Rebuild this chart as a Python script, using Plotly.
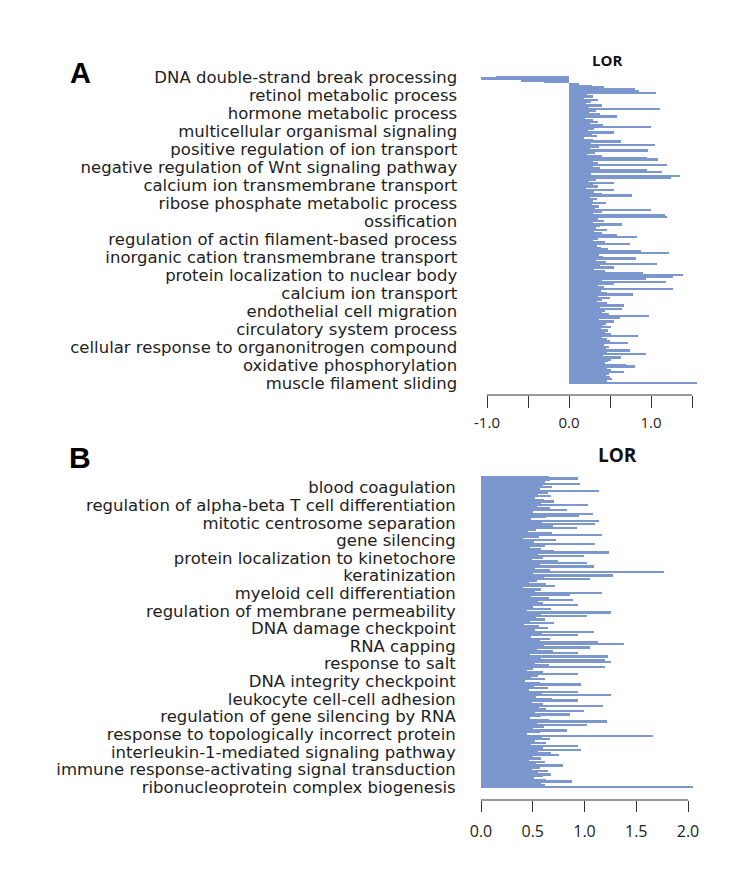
import plotly.graph_objects as go

# ---------------- Panel A data ----------------
lor_a = [
    -0.89, -1.07, -0.58, -0.30, 0.12, 0.28, 0.43, 0.81, 0.86, 1.06,
    0.22, 0.30, 0.18, 0.35, 0.27, 0.21, 0.40, 0.25, 1.11, 0.33,
    0.24, 0.38, 0.59, 0.20, 0.29, 0.36, 0.26, 0.42, 1.00, 0.31,
    0.23, 0.55, 0.28, 0.34, 0.19, 0.30, 0.63, 0.27, 1.05, 0.37,
    0.26, 0.96, 0.32, 0.22, 0.41, 0.95, 1.09, 0.29, 0.35, 1.20,
    0.30, 0.38, 0.95, 1.13, 0.27, 1.35, 1.25, 0.33, 0.24, 0.55,
    0.29, 0.36, 0.21, 0.55, 0.31, 0.40, 0.77, 0.26, 0.34, 0.30,
    0.45, 0.28, 0.37, 0.32, 1.00, 0.41, 0.30, 1.17, 1.20, 0.35,
    0.43, 0.29, 0.65, 0.38, 0.33, 0.46, 0.31, 0.40, 0.59, 0.83,
    0.36, 0.30, 0.44, 0.74, 0.34, 0.39, 0.48, 0.88, 1.22, 0.37,
    0.42, 0.82, 0.33, 0.45, 1.07, 0.38, 0.55, 0.31, 0.44, 0.90,
    1.39, 1.27, 0.94, 0.40, 1.19, 0.55, 0.35, 0.43, 1.27, 0.39,
    0.46, 0.78, 0.36, 0.50, 0.41, 0.34, 0.47, 0.67, 0.38, 0.65,
    0.44, 0.40, 0.49, 0.98, 0.62, 0.37, 0.55, 0.45, 0.42, 0.51,
    0.39, 0.48, 0.44, 0.52, 0.84, 0.41, 0.46, 0.50, 0.72, 0.43,
    0.49, 0.45, 0.74, 0.47, 0.94, 0.42, 0.63, 0.51, 0.48, 0.44,
    0.70, 0.81, 0.46, 0.52, 0.67, 0.49, 0.45, 0.50, 0.53, 0.47,
    1.56,
]
label_idx_a = [0, 10, 20, 30, 40, 50, 60, 70, 80, 90, 100, 110, 120, 130, 140, 150, 160, 170]
labels_a = [
    "DNA double-strand break processing",
    "retinol metabolic process",
    "hormone metabolic process",
    "multicellular organismal signaling",
    "positive regulation of ion transport",
    "negative regulation of Wnt signaling pathway",
    "calcium ion transmembrane transport",
    "ribose phosphate metabolic process",
    "ossification",
    "regulation of actin filament-based process",
    "inorganic cation transmembrane transport",
    "protein localization to nuclear body",
    "calcium ion transport",
    "endothelial cell migration",
    "circulatory system process",
    "cellular response to organonitrogen compound",
    "oxidative phosphorylation",
    "muscle filament sliding",
]
ticks_a = [-1.0, -0.5, 0.0, 0.5, 1.0, 1.5]
ticktext_a = ["-1.0", "", "0.0", "", "1.0", ""]

# ---------------- Panel B data ----------------
lor_b = [
    0.65, 0.93, 0.66, 0.62, 0.95, 0.60, 0.68, 0.57, 1.14, 0.64,
    0.55, 0.67, 0.52, 0.61, 0.70, 0.58, 1.03, 0.54, 0.66, 0.83,
    0.50, 1.08, 0.94, 0.63, 0.48, 1.14, 0.59, 1.10, 0.69, 0.92,
    0.53, 0.45, 0.68, 1.17, 0.56, 0.40, 0.72, 0.51, 1.10, 0.62,
    0.47, 0.58, 0.70, 1.23, 0.55, 0.99, 0.60, 0.49, 0.74, 1.02,
    0.57, 1.09, 0.52, 0.66, 1.77, 0.50, 1.27, 0.61, 1.05, 0.54,
    0.46, 0.63, 0.71, 0.40, 0.58, 0.52, 1.17, 0.86, 0.48, 0.65,
    0.89, 0.55, 0.60, 0.93, 0.50, 0.67, 0.44, 1.25, 0.58, 1.02,
    0.53, 0.62, 0.47, 0.70, 0.41, 0.56, 0.64, 0.52, 1.09, 0.59,
    0.93, 0.48, 0.66, 0.57, 1.13, 1.38, 0.61, 1.05, 0.54, 0.69,
    0.93, 0.47, 1.22, 0.58, 1.20, 1.25, 0.52, 0.65, 1.20, 0.50,
    0.44, 0.60, 0.93, 0.55, 0.48, 0.62, 0.42, 0.57, 0.96, 0.51,
    0.64, 0.46, 0.93, 0.59, 1.25, 0.53, 0.68, 0.93, 0.49, 0.60,
    1.18, 0.56, 0.63, 0.99, 0.52, 0.86, 0.58, 0.47, 0.65, 1.21,
    0.54, 1.02, 0.61, 0.50, 0.83, 0.57, 0.44, 1.66, 0.59, 0.66,
    0.52, 0.63, 0.48, 0.93, 0.60, 0.96, 0.55, 0.67, 0.75, 0.50,
    0.58, 0.46, 0.62, 0.53, 0.79, 0.57, 0.49, 0.64, 0.55, 0.67,
    0.60, 0.51, 0.63, 0.88, 0.58, 0.62, 2.05,
]
label_idx_b = [6, 16, 26, 36, 46, 56, 66, 76, 86, 96, 106, 116, 126, 136, 146, 156, 166, 176]
labels_b = [
    "blood coagulation",
    "regulation of alpha-beta T cell differentiation",
    "mitotic centrosome separation",
    "gene silencing",
    "protein localization to kinetochore",
    "keratinization",
    "myeloid cell differentiation",
    "regulation of membrane permeability",
    "DNA damage checkpoint",
    "RNA capping",
    "response to salt",
    "DNA integrity checkpoint",
    "leukocyte cell-cell adhesion",
    "regulation of gene silencing by RNA",
    "response to topologically incorrect protein",
    "interleukin-1-mediated signaling pathway",
    "immune response-activating signal transduction",
    "ribonucleoprotein complex biogenesis",
]
ticks_b = [0.0, 0.5, 1.0, 1.5, 2.0]
ticktext_b = ["0.0", "0.5", "1.0", "1.5", "2.0"]

# ---------------- Figure ----------------
W, H = 740, 877
BAR = "#7b97cd"
LABEL_FONT_A = dict(family="DejaVu Sans", size=16.5, color="#222222")
LABEL_FONT_B = dict(family="DejaVu Sans", size=16.5, color="#222222")
TICK_FONT = dict(family="Open Sans", size=15, color="#222222")

def px_x(p):
    return p / W

def px_y(p):
    return 1 - p / H

fig = go.Figure()
fig.add_trace(go.Bar(
    x=lor_a, y=list(range(len(lor_a))), orientation="h",
    marker=dict(color=BAR, line=dict(width=0)), width=1.0,
    xaxis="x", yaxis="y", showlegend=False, hoverinfo="x",
))
fig.add_trace(go.Bar(
    x=lor_b, y=list(range(len(lor_b))), orientation="h",
    marker=dict(color=BAR, line=dict(width=0)), width=1.0,
    xaxis="x2", yaxis="y2", showlegend=False, hoverinfo="x",
))

# Panel A geometry: -1.0 at 487px, 1.5 at 692px ; bars at y 77..383 px
ax_l, ax_r = -1.12, 1.6
pxu = (692 - 487) / 2.5
a_left = 487 + (ax_l + 1.0) * pxu
a_right = 692 + (ax_r - 1.5) * pxu
pa = 1.8
a_top_idx = -0.56
a_bot_idx = (395 - 77) / pa

# Panel B geometry: 0 at 481px, 2.0 at 688px ; bars at y 477..787 px
bx_l, bx_r = -0.08, 2.1
pxub = (688 - 481) / 2.0
b_left = 481 + bx_l * pxub
b_right = 688 + (bx_r - 2.0) * pxub
pb = (787 - 477) / 176
b_top_idx = -0.57
b_bot_idx = (800 - 477) / pb

fig.update_layout(
    template="none",
    width=W, height=H,
    margin=dict(l=0, r=0, t=0, b=0, pad=0),
    paper_bgcolor="white", plot_bgcolor="white",
    bargap=0,
    xaxis=dict(
        domain=[px_x(a_left), px_x(a_right)], range=[ax_l, ax_r],
        anchor="y", showgrid=False, zeroline=False, showline=False, automargin=False,
        tickmode="array", tickvals=ticks_a, ticktext=ticktext_a,
        ticks="outside", ticklen=12, tickwidth=1, tickcolor="#333333",
        tickfont=TICK_FONT, ticklabelstandoff=2, fixedrange=True,
    ),
    yaxis=dict(
        domain=[px_y(395), px_y(76)], range=[a_bot_idx, a_top_idx],
        anchor="x", showgrid=False, zeroline=False, showline=False, automargin=False,
        tickmode="array", tickvals=label_idx_a, ticktext=labels_a,
        ticks="", tickfont=LABEL_FONT_A, ticklabelstandoff=19, fixedrange=True,
    ),
    xaxis2=dict(
        domain=[px_x(b_left), px_x(b_right)], range=[bx_l, bx_r],
        anchor="y2", showgrid=False, zeroline=False, showline=False, automargin=False,
        tickmode="array", tickvals=ticks_b, ticktext=ticktext_b,
        ticks="outside", ticklen=11, tickwidth=1, tickcolor="#333333",
        tickfont=dict(family="Open Sans", size=16, color="#222222"),
        ticklabelstandoff=6, fixedrange=True,
    ),
    yaxis2=dict(
        domain=[px_y(800), px_y(476)], range=[b_bot_idx, b_top_idx],
        anchor="x2", showgrid=False, zeroline=False, showline=False, automargin=False,
        tickmode="array", tickvals=label_idx_b, ticktext=labels_b,
        ticks="", tickfont=LABEL_FONT_B, ticklabelstandoff=16, fixedrange=True,
    ),
)

# R-style axis lines spanning first to last tick
fig.add_shape(type="line", xref="x", yref="y domain", x0=ticks_a[0], x1=ticks_a[-1],
              y0=0, y1=0, line=dict(color="#333333", width=1))
fig.add_shape(type="line", xref="x2", yref="y2 domain", x0=ticks_b[0], x1=ticks_b[-1],
              y0=0, y1=0, line=dict(color="#333333", width=1))

# Titles and panel letters
common = dict(xref="paper", yref="paper", showarrow=False, xanchor="center", yanchor="middle")
fig.add_annotation(text="<b>LOR</b>", x=px_x(607), y=px_y(60),
                   font=dict(family="Open Sans", size=15, color="#111111"), **common)
fig.add_annotation(text="<b>LOR</b>", x=px_x(617), y=px_y(455),
                   font=dict(family="Open Sans", size=19, color="#111111"), **common)
fig.add_annotation(text="<b>A</b>", x=px_x(80), y=px_y(73),
                   font=dict(family="Liberation Sans", size=29, color="#000000"), **common)
fig.add_annotation(text="<b>B</b>", x=px_x(80), y=px_y(457),
                   font=dict(family="Liberation Sans", size=30, color="#000000"), **common)

fig.write_html("out.html")
